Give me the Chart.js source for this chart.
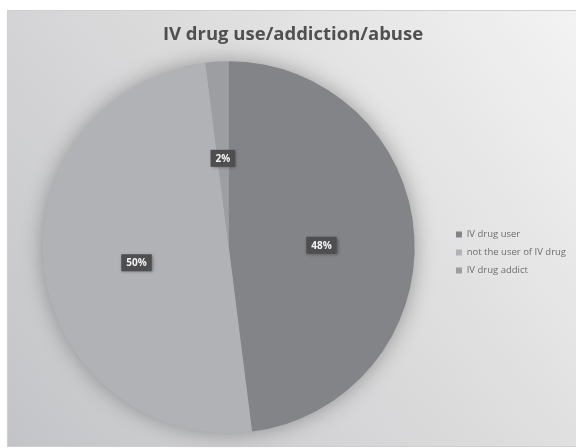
<!DOCTYPE html>
<html>
<head>
<meta charset="utf-8">
<script src="https://cdn.jsdelivr.net/npm/chart.js@4.4.0/dist/chart.umd.min.js"></script>
<style>
  html, body { margin: 0; padding: 0; background: #fff; }
  #wrap { width: 576px; height: 448px; }
</style>
</head>
<body>
<div id="wrap"><canvas id="pieChart" width="576" height="448"></canvas></div>
<script>
// data
const categories = ['IV drug user', 'not the user of IV drug', 'IV drug addict'];
const shares = [48, 50, 2];
const sliceColors = ['#838488', '#b1b2b6', '#9d9ea2'];

// grey gradient panel behind the chart
const framePlugin = {
  id: 'frame',
  beforeDraw(chart) {
    const ctx = chart.ctx;
    ctx.save();
    const g = ctx.createLinearGradient(576, 10, 7, 446);
    g.addColorStop(0, '#f3f3f3');
    g.addColorStop(0.45, '#dcdcdd');
    g.addColorStop(1, '#c3c4c7');
    ctx.fillStyle = g;
    ctx.fillRect(7, 10, 569, 436);
    ctx.strokeStyle = '#cfcfcf';
    ctx.strokeRect(7.5, 10.5, 569, 436);
    ctx.restore();
  }
};

// soft shadow under the pie
const shadowPlugin = {
  id: 'pieShadow',
  beforeDatasetsDraw(chart) {
    const arc = chart.getDatasetMeta(0).data[0];
    if (!arc) return;
    const ctx = chart.ctx;
    ctx.save();
    ctx.shadowColor = 'rgba(0,0,0,0.35)';
    ctx.shadowBlur = 22;
    ctx.fillStyle = '#9a9b9f';
    ctx.beginPath();
    ctx.arc(arc.x, arc.y, arc.outerRadius - 1, 0, Math.PI * 2);
    ctx.fill();
    ctx.restore();
  }
};

// dark boxed percentage labels
const boxLabels = {
  id: 'boxLabels',
  afterDatasetsDraw(chart) {
    const ctx = chart.ctx;
    const meta = chart.getDatasetMeta(0);
    ctx.save();
    ctx.font = 'bold 10px "Open Sans", sans-serif';
    ctx.textAlign = 'center';
    ctx.textBaseline = 'middle';
    meta.data.forEach((arc, i) => {
      const mid = (arc.startAngle + arc.endAngle) / 2;
      const r = arc.outerRadius * 0.5;
      const x = arc.x + Math.cos(mid) * r;
      const y = arc.y + Math.sin(mid) * r + 4;
      const text = shares[i] + '%';
      const w = ctx.measureText(text).width + 10;
      const h = 17;
      ctx.shadowColor = 'rgba(0,0,0,0.35)';
      ctx.shadowBlur = 3;
      ctx.shadowOffsetX = 1;
      ctx.shadowOffsetY = 1;
      ctx.fillStyle = '#4e4e50';
      ctx.fillRect(x - w / 2, y - h / 2, w, h);
      ctx.shadowColor = 'transparent';
      ctx.fillStyle = '#f4f4f4';
      ctx.fillText(text, x, y + 0.5);
    });
    ctx.restore();
  }
};

new Chart(document.getElementById('pieChart'), {
  type: 'pie',
  data: {
    labels: categories,
    datasets: [{
      data: shares,
      backgroundColor: sliceColors,
      borderWidth: 0
    }]
  },
  options: {
    responsive: false,
    animation: false,
    layout: { padding: { left: 10, right: 0, top: 10, bottom: 15 } },
    plugins: {
      title: {
        display: true,
        text: 'IV drug use/addiction/abuse',
        color: '#505050',
        font: { family: '"Open Sans", sans-serif', size: 18.5, weight: 'bold' },
        padding: { top: 14, bottom: 15 }
      },
      legend: {
        position: 'right',
        // empty title only pushes the items down to the pie's middle
        title: { display: true, text: ' ', font: { size: 10 }, padding: { top: 25, bottom: 25 } },
        labels: {
          boxWidth: 6,
          boxHeight: 6,
          padding: 8.5,
          color: '#6e6e6e',
          font: { family: '"Open Sans", sans-serif', size: 9.5 }
        }
      },
      tooltip: { enabled: false }
    }
  },
  plugins: [framePlugin, shadowPlugin, boxLabels]
});
</script>
</body>
</html>
